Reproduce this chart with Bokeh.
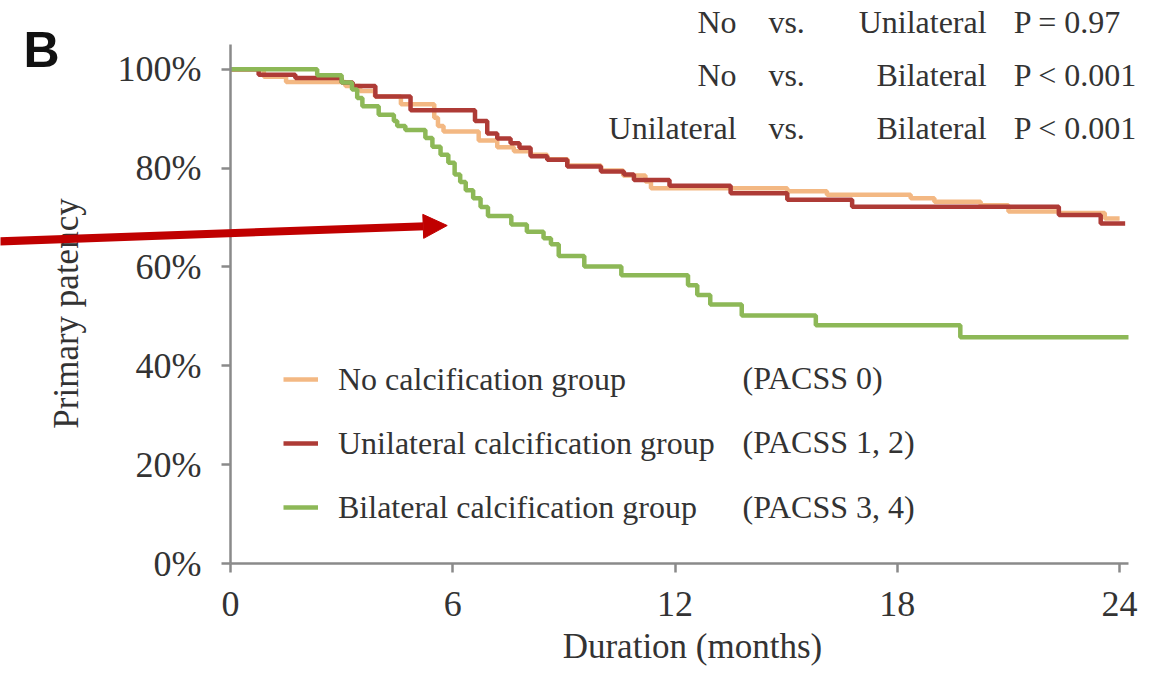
from bokeh.plotting import figure
from bokeh.models import Range1d, FixedTicker, Label, Legend, LegendItem, Arrow, NormalHead
from bokeh.embed import file_html
from bokeh.resources import INLINE

# ---- data ----
no_t = [0, 0.9, 1.5, 3.1, 3.5, 3.9, 4.6, 5.5, 5.6, 5.75, 6.7, 7.2, 7.65, 8.1, 8.55, 9.1,
        10.0, 10.6, 11.2, 11.35, 15.03, 16.1, 18.36, 19.0, 20.25, 21.0, 22.36, 23.6, 24.0]
no_s = [100, 98.5, 97.4, 96.6, 95.6, 94.5, 92.9, 90.2, 88.5, 87.4, 85.6, 84.2, 83.4, 82.7, 81.8, 80.5,
        79.5, 78.5, 77.3, 75.9, 75.3, 74.6, 73.9, 73.2, 72.5, 71.2, 70.9, 69.8, 69.8]

uni_t = [0, 0.76, 1.75, 3.0, 3.3, 3.91, 4.86, 6.6, 6.93, 7.2, 7.56, 7.8, 8.1, 8.55, 9.09,
         10.0, 10.62, 10.89, 11.85, 13.5, 15.03, 16.78, 22.36, 23.49, 24.15]
uni_s = [100, 98.9, 98.2, 97.3, 96.6, 94.5, 91.7, 89.5, 87.0, 86.0, 85.0, 84.1, 82.4, 81.7, 80.3,
         79.3, 78.7, 77.6, 76.4, 74.9, 73.6, 72.2, 70.5, 68.8, 68.8]

bi_t = [0, 2.34, 3.0, 3.28, 3.42, 3.56, 4.0, 4.41, 4.5, 4.72, 5.26, 5.45, 5.67, 5.88, 6.05, 6.2,
        6.35, 6.55, 6.75, 6.95, 7.58, 8.0, 8.45, 8.65, 8.86, 9.55, 10.55, 12.35, 12.6, 12.95,
        13.8, 15.8, 19.7, 24.24]
bi_s = [100, 98.8, 97.3, 95.9, 94.2, 92.5, 90.8, 89.5, 88.5, 87.7, 86.1, 84.3, 82.7, 81.1, 78.7, 77.2,
        75.5, 73.9, 72.1, 70.3, 68.6, 67.1, 65.8, 64.6, 62.2, 60.1, 58.3, 56.3, 54.3, 52.4,
        50.2, 48.2, 45.8, 45.8]

group_names = ["No calcification group", "Unilateral calcification group", "Bilateral calcification group"]
group_codes = ["(PACSS 0)", "(PACSS 1, 2)", "(PACSS 3, 4)"]

cmp_left = ["No", "No", "Unilateral"]
cmp_right = ["Unilateral", "Bilateral", "Bilateral"]
cmp_p = ["P = 0.97", "P < 0.001", "P < 0.001"]

x_ticks = [0, 6, 12, 18, 24]
x_tick_labels = ["0", "6", "12", "18", "24"]
y_ticks = [0, 20, 40, 60, 80, 100]
y_tick_labels = ["0%", "20%", "40%", "60%", "80%", "100%"]
x_axis_max = 24.24
y_axis_max = 105

x_title = "Duration (months)"
y_title = "Primary patency"
panel = "B"

# ---- styling ----
C_NO = "#F3B883"
C_UNI = "#AE3B36"
C_BI = "#8DB857"
TXT = "#333333"
AX = "#8a8a8a"
SERIF = "Liberation Serif"

W, H = 1144, 667
X0, PXM = 230.0, 37.046      # pixel of month 0, pixels per month
Y100, PXP = 44.0, 4.943      # pixel of y=105 (top of axis), pixels per percent

p = figure(width=W, height=H, min_border=0, min_border_left=0, min_border_right=0,
           min_border_top=0, min_border_bottom=0,
           x_range=Range1d(-X0 / PXM, (W - X0) / PXM),
           y_range=Range1d(y_axis_max - (H - Y100) / PXP, y_axis_max + Y100 / PXP),
           output_backend="svg", toolbar_location=None)
p.outline_line_color = None
p.grid.visible = False
p.background_fill_color = "white"
p.border_fill_color = "white"

for ax in (p.xaxis[0], p.yaxis[0]):
    ax.axis_line_color = AX
    ax.axis_line_width = 2.5
    ax.major_tick_line_color = AX
    ax.major_tick_line_width = 2.5
    ax.major_tick_in = 0
    ax.major_tick_out = 9
    ax.minor_tick_line_color = None
    ax.major_label_text_font = SERIF
    ax.major_label_text_font_size = "36px"
    ax.major_label_text_color = TXT
    ax.fixed_location = 0

p.xaxis.bounds = (0, x_axis_max)
p.yaxis.bounds = (0, y_axis_max)
p.xaxis.ticker = FixedTicker(ticks=x_ticks)
p.xaxis.major_label_overrides = dict(zip(x_ticks, x_tick_labels))
p.xaxis.major_label_standoff = 19
p.yaxis.ticker = FixedTicker(ticks=y_ticks)
p.yaxis.major_label_standoff = 20
p.yaxis.major_label_overrides = dict(zip(y_ticks, y_tick_labels))

r_no = p.step(no_t, no_s, mode="after", line_color=C_NO, line_width=4.5)
r_uni = p.step(uni_t, uni_s, mode="after", line_color=C_UNI, line_width=4.5)
r_bi = p.step(bi_t, bi_s, mode="after", line_color=C_BI, line_width=4.5)

legend = Legend(items=[LegendItem(label=group_names[0], renderers=[r_no]),
                       LegendItem(label=group_names[1], renderers=[r_uni]),
                       LegendItem(label=group_names[2], renderers=[r_bi])],
                location=(283, 128), orientation="vertical",
                glyph_width=35, glyph_height=64, label_height=64, spacing=0,
                padding=0, margin=0, label_standoff=20,
                label_text_font=SERIF, label_text_font_size="32px", label_text_color=TXT,
                border_line_color=None, background_fill_alpha=0)
p.add_layout(legend, "center")

code_y = [37.5, 24.55, 11.4]
for code, yy in zip(group_codes, code_y):
    p.add_layout(Label(x=13.82, y=yy, text=code, text_font=SERIF, text_font_size="32px",
                       text_color=TXT, text_align="left", text_baseline="middle"))

row_y = [109.55, 98.83, 88.11]
for a, b, pv, yy in zip(cmp_left, cmp_right, cmp_p, row_y):
    p.add_layout(Label(x=13.66, y=yy, text=a, text_font=SERIF, text_font_size="32px",
                       text_color=TXT, text_align="right", text_baseline="middle"))
    p.add_layout(Label(x=14.52, y=yy, text="vs.", text_font=SERIF, text_font_size="32px",
                       text_color=TXT, text_align="left", text_baseline="middle"))
    p.add_layout(Label(x=20.41, y=yy, text=b, text_font=SERIF, text_font_size="32px",
                       text_color=TXT, text_align="right", text_baseline="middle"))
    p.add_layout(Label(x=21.14, y=yy, text=pv, text_font=SERIF, text_font_size="32px",
                       text_color=TXT, text_align="left", text_baseline="middle"))

p.add_layout(Label(x=12.47, y=-16.79, text=x_title, text_font=SERIF, text_font_size="35px",
                   text_color=TXT, text_align="center", text_baseline="middle"))
p.add_layout(Label(x=-4.43, y=50.58, text=y_title, text_font=SERIF, text_font_size="35px",
                   text_color=TXT, text_align="center", text_baseline="middle", angle=1.5707963))
p.add_layout(Label(x=-5.588, y=103.79, text=panel, text_font="Liberation Sans", text_font_size="50px",
                   text_font_style="bold", text_color="#111111", text_align="left",
                   text_baseline="middle"))

p.add_layout(Arrow(x_start=-6.3, y_start=65.15, x_end=5.85, y_end=68.38,
                   line_color="#C00000", line_width=8,
                   end=NormalHead(size=24, fill_color="#C00000", line_color="#C00000", line_width=1)))

open("out.html", "w").write(file_html(p, INLINE))
